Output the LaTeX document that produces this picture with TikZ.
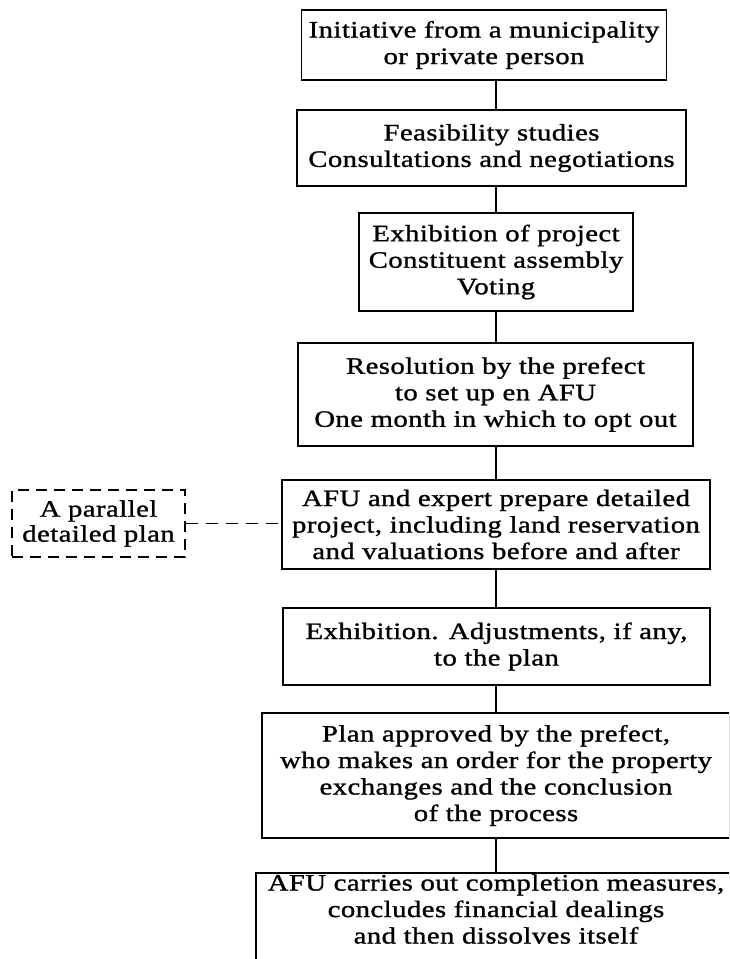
\documentclass[tikz,border=0pt]{standalone}
\usepackage{fontspec}
\setmainfont{Liberation Serif}[FakeStretch=1.22,LetterSpace=2,FakeBold=1.2]
\begin{document}
\begin{tikzpicture}[x=1pt,y=-1pt,
  stepbox/.style={draw, line width=1.7pt, inner sep=0pt, align=center,
    font=\fontsize{23.5}{26.5}\selectfont},
  notebox/.style={stepbox, line width=1.6pt, dash pattern=on 11pt off 7pt,
    font=\fontsize{23.5}{25}\selectfont},
  plaintext/.style={inner sep=0pt, align=center,
    font=\fontsize{23.5}{26.5}\selectfont},
  link/.style={line width=1.3pt},
  dashlink/.style={line width=1.7pt, dash pattern=on 12pt off 8pt}]
\useasboundingbox (0,0) rectangle (729,959);
\clip (0,0) rectangle (729,959);

% vertical spine of the procedure
\coordinate (spine) at (496,0);

\node[stepbox, minimum width=365pt, minimum height=70pt] (b1) at (484,45)
  {Initiative from a municipality\\or private person};
\node[stepbox, minimum width=389pt, minimum height=76pt] (b2) at (491.5,148)
  {Feasibility studies\\Consultations and negotiations};
\node[stepbox, minimum width=274pt, minimum height=98pt] (b3) at (496,262)
  {Exhibition of project\\Constituent assembly\\Voting};
\node[stepbox, minimum width=395pt, minimum height=103pt] (b4) at (495.5,394.5)
  {Resolution by the prefect\\to set up en AFU\\One month in which to opt out};
\node[stepbox, minimum width=428pt, minimum height=89pt] (b5) at (496,524.5)
  {AFU and expert prepare detailed\\project, including land reservation\\and valuations before and after};
\node[notebox, minimum width=173pt, minimum height=67pt] (d) at (98.5,523.5)
  {A parallel\\detailed plan};
\node[stepbox, minimum width=427pt, minimum height=77pt] (b6) at (496.5,646.5)
  {Exhibition. Adjustments, if any,\\to the plan};
\node[stepbox, minimum width=468pt, minimum height=125pt] (b7) at (496,775.5)
  {Plan approved by the prefect,\\who makes an order for the property\\exchanges and the conclusion\\of the process};
\node[stepbox, minimum width=480pt, minimum height=117pt] (b8) at (496,931.5) {};
\node[plaintext] (t8) at (496,909)
  {AFU carries out completion measures,\\concludes financial dealings\\and then dissolves itself};

% connectors
\draw[link] (b1.south -| spine) -- (b2.north -| spine);
\draw[link] (b2.south -| spine) -- (b3.north -| spine);
\draw[link] (b3.south -| spine) -- (b4.north -| spine);
\draw[link] (b4.south -| spine) -- (b5.north -| spine);
\draw[link] (b5.south -| spine) -- (b6.north -| spine);
\draw[link] (b6.south -| spine) -- (b7.north -| spine);
\draw[link] (b7.south -| spine) -- (b8.north -| spine);
\draw[dashlink] (d.east) -- (d.east -| b5.west);
\end{tikzpicture}
\end{document}
